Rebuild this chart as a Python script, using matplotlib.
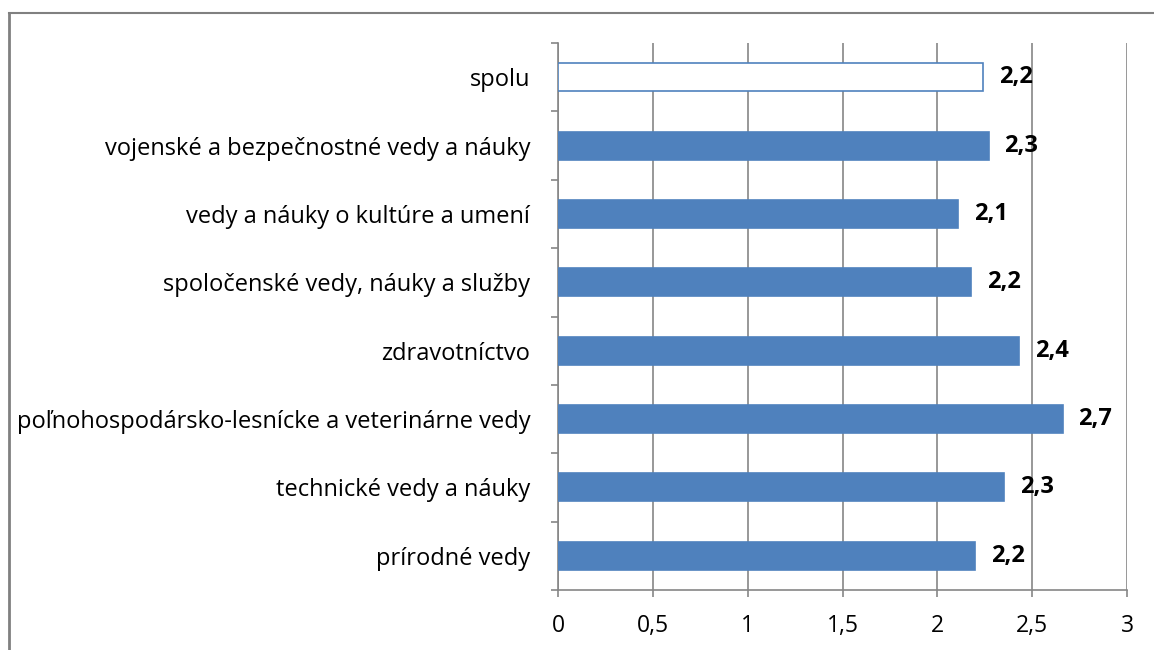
import matplotlib.pyplot as plt
from matplotlib.lines import Line2D

categories = ['prírodné vedy', 'technické vedy a náuky',
              'poľnohospodársko-lesnícke a veterinárne vedy', 'zdravotníctvo',
              'spoločenské vedy, náuky a služby', 'vedy a náuky o kultúre a umení',
              'vojenské a bezpečnostné vedy a náuky', 'spolu']
values = [2.20, 2.35, 2.66, 2.43, 2.18, 2.11, 2.27, 2.24]
labels = ['2,2', '2,3', '2,7', '2,4', '2,2', '2,1', '2,3', '2,2']
xticks = [0, 0.5, 1, 1.5, 2, 2.5, 3]
xtick_labels = ['0', '0,5', '1', '1,5', '2', '2,5', '3']

plt.rcParams['font.family'] = ['Open Sans', 'DejaVu Sans']
blue = '#4F81BD'
grey = '#868686'

fig = plt.figure(figsize=(11.54, 6.5), dpi=100)
ax = fig.add_axes([558 / 1154, 60 / 650, 569 / 1154, 547 / 650])

colors = [blue] * (len(values) - 1) + ['white']
ax.barh(range(len(values)), values, height=0.41, color=colors,
        edgecolor=blue, linewidth=1.2, zorder=3)

for i, (v, t) in enumerate(zip(values, labels)):
    ax.annotate(t, (v, i), xytext=(11.5, 0), textcoords='offset points',
                va='center', ha='left', fontsize=17, fontweight='bold')

ax.set_xlim(0, 3)
ax.set_ylim(-0.5, len(values) - 0.5)
ax.set_xticks(xticks)
ax.set_xticklabels(xtick_labels, fontsize=16.5)
ax.set_yticks(range(len(values)))
ax.set_yticklabels(categories, fontsize=17)
ax.set_yticks([i - 0.5 for i in range(len(values) + 1)], minor=True)
ax.tick_params(axis='y', which='major', length=0, pad=20)
ax.tick_params(axis='y', which='minor', length=5, color=grey, width=1.2)
ax.tick_params(axis='x', length=5, color=grey, width=1.2, pad=12)
ax.grid(axis='x', color=grey, linewidth=1.2, zorder=0)
for s in ['top', 'right']:
    ax.spines[s].set_visible(False)
for s in ['left', 'bottom']:
    ax.spines[s].set_color(grey)
    ax.spines[s].set_linewidth(1.2)

# outer chart frame
fig.add_artist(Line2D([9 / 1154, 9 / 1154], [0, 1 - 13 / 650], color='#808080',
                      linewidth=2, transform=fig.transFigure))
fig.add_artist(Line2D([9 / 1154, 1], [1 - 13 / 650, 1 - 13 / 650], color='#808080',
                      linewidth=1.5, transform=fig.transFigure))

fig.savefig('out.png', dpi=100)
